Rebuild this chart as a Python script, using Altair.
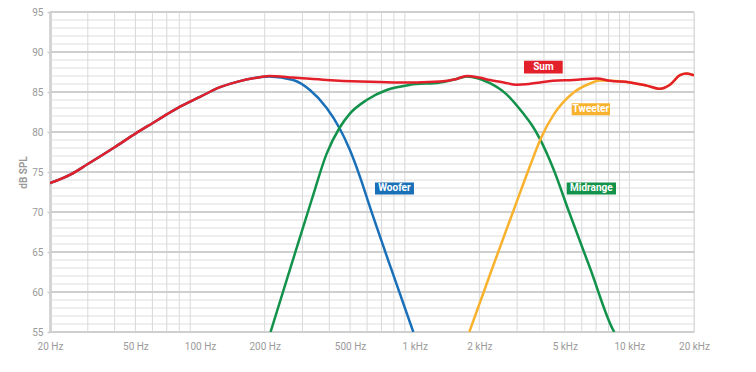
import altair as alt
import pandas as pd

# ---- data ----
sum_f = [20, 25, 30, 40, 50, 60, 70, 80, 90, 100, 124, 150, 190, 210, 272, 389, 556, 794,
         1022, 1312, 1550, 1746, 2000, 2241, 2600, 2985, 3400, 3834, 4400, 5480, 7041, 8127,
         10070, 12035, 13900, 15450, 17220, 18480, 20000]
sum_db = [73.6, 74.7, 76.0, 78.1, 79.8, 81.1, 82.2, 83.1, 83.8, 84.4, 85.6, 86.3, 86.85, 87.0,
          86.8, 86.5, 86.3, 86.2, 86.2, 86.3, 86.6, 87.0, 86.8, 86.5, 86.2, 85.9, 86.0, 86.2,
          86.4, 86.5, 86.7, 86.4, 86.2, 85.8, 85.4, 85.9, 87.1, 87.3, 87.1]

woofer_f = [20, 25, 30, 40, 50, 60, 70, 80, 90, 100, 124, 150, 190, 210, 272, 325, 389, 446,
            499, 556, 619, 770, 985]
woofer_db = [73.6, 74.7, 76.0, 78.1, 79.8, 81.1, 82.2, 83.1, 83.8, 84.4, 85.6, 86.3, 86.85, 86.95,
             86.5, 85.25, 83.0, 80.5, 77.75, 74.4, 70.6, 63.2, 55.0]

mid_f = [213, 265, 331, 389, 446, 499, 597, 740, 951, 1312, 1550, 1746, 2241, 2680, 3206,
         3507, 3834, 4423, 5196, 6556, 8420, 8500]
mid_db = [55.0, 63.2, 71.5, 77.3, 80.5, 82.3, 84.0, 85.25, 85.9, 86.2, 86.6, 86.95, 86.1, 84.7,
          82.3, 80.9, 79.1, 75.4, 70.25, 63.0, 55.2, 55.0]

tw_f = [1796, 2300, 2878, 3443, 3876, 4423, 5480, 6556, 7295, 8127, 10070, 12035, 13900,
        15450, 17220, 18480, 20000]
tw_db = [55.0, 63.0, 70.1, 75.75, 79.25, 82.1, 84.9, 86.06, 86.44, 86.4, 86.2, 85.8, 85.4,
         85.9, 87.1, 87.3, 87.1]

series_colors = {"Woofer": "#1a70b8", "Midrange": "#12924a", "Tweeter": "#f8b22e", "Sum": "#e31f29"}

lab_names = ["Sum", "Tweeter", "Woofer", "Midrange"]
lab_f1 = [3229, 5387, 653, 5105]
lab_f2 = [4891, 8122, 992, 8663]
lab_y1 = [88.9, 83.6, 73.7, 73.7]
lab_y2 = [87.3, 82.1, 72.2, 72.2]

x_tick_values = [20, 50, 100, 200, 500, 1000, 2000, 5000, 10000, 20000]
y_tick_values = [55, 60, 65, 70, 75, 80, 85, 90, 95]
x_grid_values = [m * d for d in (10, 100, 1000) for m in range(2, 10)] + [10000, 20000]
y_minor_values = [v for v in range(55, 96) if v % 5 != 0]

FONT = "Roboto"

# ---- scales & shared axes ----
xs = alt.Scale(type="log", domain=[20, 20000], nice=False)
ys = alt.Scale(domain=[55, 95], nice=False, zero=False)

XAX = alt.Axis(
    values=x_tick_values, grid=False, ticks=False, domain=False,
    labelExpr="datum.value >= 1000 ? (datum.value / 1000) + ' kHz' : datum.value + ' Hz'",
    labelColor="#9a9a9a", labelFontSize=10, labelFont=FONT, labelPadding=9,
    labelFlush=False, labelOverlap=False, title=None)
YAX = alt.Axis(
    values=y_tick_values, grid=False, domainColor="#c8c8c8", domainWidth=2.5,
    tickColor="#c8c8c8", tickSize=3, tickWidth=1.5, labelOverlap=False,
    labelColor="#9a9a9a", labelFontSize=10, labelFont=FONT, labelPadding=4,
    title="dB SPL", titleColor="#9a9a9a", titleFontSize=10, titleFont=FONT,
    titleFontWeight="bold", titlePadding=3)


def X(field):
    return alt.X(field, scale=xs, axis=XAX)


def Y(field):
    return alt.Y(field, scale=ys, axis=YAX)


xgrid = alt.Chart(pd.DataFrame({"f": x_grid_values})).mark_rule(
    color="#d9d9d9", strokeWidth=1).encode(x=X("f:Q"))
yminor = alt.Chart(pd.DataFrame({"v": y_minor_values})).mark_rule(
    color="#dedede", strokeWidth=1).encode(y=Y("v:Q"))
ymajor = alt.Chart(pd.DataFrame({"v": y_tick_values})).mark_rule(
    color="#cfcfcf", strokeWidth=2).encode(y=Y("v:Q"))


def line(name, fs, dbs):
    df = pd.DataFrame({"f": fs, "db": dbs})
    return alt.Chart(df).mark_line(
        color=series_colors[name], strokeWidth=2.5, interpolate="monotone", clip=True
    ).encode(x=X("f:Q"), y=Y("db:Q"))


labels_df = pd.DataFrame({
    "name": lab_names, "f1": lab_f1, "f2": lab_f2, "y1": lab_y1, "y2": lab_y2,
})
labels_df["fc"] = (labels_df["f1"] * labels_df["f2"]) ** 0.5
labels_df["yc"] = (labels_df["y1"] + labels_df["y2"]) / 2
color_scale = alt.Scale(domain=list(series_colors.keys()), range=list(series_colors.values()))

boxes = alt.Chart(labels_df).mark_rect().encode(
    x=X("f1:Q"), x2="f2:Q",
    y=Y("y1:Q"), y2="y2:Q",
    color=alt.Color("name:N", scale=color_scale, legend=None),
)
texts = alt.Chart(labels_df).mark_text(
    color="white", fontWeight="bold", fontSize=10, font=FONT, baseline="middle", align="center"
).encode(x=X("fc:Q"), y=Y("yc:Q"), text="name:N")

chart = alt.layer(
    yminor, xgrid, ymajor,
    line("Woofer", woofer_f, woofer_db),
    line("Midrange", mid_f, mid_db),
    line("Tweeter", tw_f, tw_db),
    line("Sum", sum_f, sum_db),
    boxes, texts,
).properties(
    width=644, height=320,
    autosize=alt.AutoSizeParams(type="none"),
    padding={"left": 42, "top": 4, "right": 40, "bottom": 20},
).configure_view(stroke=None).configure(background="white")

chart.save("out.html", embed_options={"renderer": "svg", "actions": False})
